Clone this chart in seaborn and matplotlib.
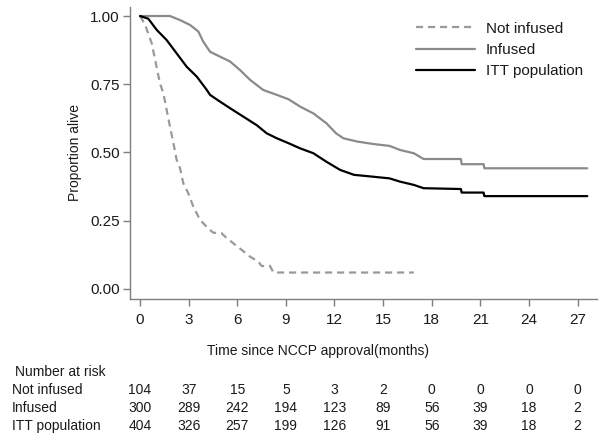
import matplotlib
matplotlib.use("Agg")
import matplotlib.pyplot as plt
import matplotlib.transforms as mtransforms
import seaborn as sns
import pandas as pd

# Kaplan-Meier survival estimates (months since NCCP approval, proportion alive)
not_infused_t = [0.0, 0.3, 0.72, 0.93, 1.23, 1.44, 1.64, 1.85, 2.06, 2.26, 2.47, 2.67,
                 2.98, 3.29, 3.7, 4.2, 4.52, 5.03, 5.35, 5.76, 6.27, 6.79, 7.3, 7.5,
                 8.02, 8.23, 16.9]
not_infused_s = [1.0, 0.97, 0.90, 0.839, 0.753, 0.717, 0.656, 0.594, 0.534, 0.473, 0.442, 0.387,
                 0.35, 0.301, 0.253, 0.222, 0.206, 0.204, 0.186, 0.167, 0.143, 0.118, 0.10, 0.084,
                 0.084, 0.06, 0.06]

infused_t = [0.0, 1.85, 2.47, 3.09, 3.6, 3.9, 4.32, 4.94, 5.56, 6.17, 6.79, 7.6, 8.44,
             9.16, 9.88, 10.7, 11.5, 12.1, 12.55, 13.4, 14.4, 15.4, 16.05, 16.9, 17.5,
             19.8, 19.85, 21.2, 21.25, 27.6]
infused_s = [1.0, 1.0, 0.985, 0.967, 0.943, 0.906, 0.869, 0.851, 0.833, 0.802, 0.766, 0.729, 0.711,
             0.695, 0.668, 0.643, 0.607, 0.57, 0.552, 0.54, 0.531, 0.524, 0.509, 0.497, 0.476,
             0.476, 0.457, 0.457, 0.442, 0.442]

itt_t = [0.0, 0.51, 1.03, 1.64, 2.26, 2.88, 3.5, 4.12, 4.32, 4.94, 5.56, 6.38, 7.2, 7.82,
         8.44, 9.16, 9.88, 10.7, 11.5, 12.35, 13.2, 14.4, 15.4, 16.05, 16.9, 17.5,
         19.8, 19.85, 21.2, 21.25, 27.6]
itt_s = [1.0, 0.99, 0.949, 0.912, 0.863, 0.814, 0.778, 0.729, 0.711, 0.686, 0.662, 0.631, 0.60, 0.57,
         0.552, 0.534, 0.515, 0.497, 0.466, 0.436, 0.418, 0.411, 0.405, 0.393, 0.381, 0.369,
         0.366, 0.353, 0.353, 0.34, 0.34]

groups = ["Not infused", "Infused", "ITT population"]
risk_times = [0, 3, 6, 9, 12, 15, 18, 21, 24, 27]
risk_not_infused = [104, 37, 15, 5, 3, 2, 0, 0, 0, 0]
risk_infused = [300, 289, 242, 194, 123, 89, 56, 39, 18, 2]
risk_itt = [404, 326, 257, 199, 126, 91, 56, 39, 18, 2]

sns.set_theme(style="white")
plt.rcParams["font.family"] = ["Liberation Sans", "DejaVu Sans"]

frames = []
for name, t, s in [(groups[0], not_infused_t, not_infused_s),
                   (groups[1], infused_t, infused_s),
                   (groups[2], itt_t, itt_s)]:
    frames.append(pd.DataFrame({"time": t, "surv": s, "group": name}))
df = pd.concat(frames, ignore_index=True)

fig = plt.figure(figsize=(5.99, 4.41), dpi=100)
W, H = 599, 441
ax = fig.add_axes([130 / W, 1 - 299 / H, (597 - 130) / W, (299 - 7) / H])

styles = {
    "Not infused": dict(color="#9a9a9a", linestyle=(0, (3.2, 2.2))),
    "Infused": dict(color="#8a8a8a", linestyle="-"),
    "ITT population": dict(color="#000000", linestyle="-"),
}
for g in groups:
    sub = df[df["group"] == g]
    sns.lineplot(data=sub, x="time", y="surv", ax=ax, estimator=None, sort=False,
                 linewidth=1.6, label=g, **styles[g])

ax.set_xlim(-0.62, 28.2)
ax.set_ylim(-0.037, 1.033)
ax.set_xticks(risk_times)
ax.set_yticks([0, 0.25, 0.5, 0.75, 1.0])
ax.set_yticklabels(["0.00", "0.25", "0.50", "0.75", "1.00"])

for side in ["top", "right"]:
    ax.spines[side].set_visible(False)
for side in ["left", "bottom"]:
    ax.spines[side].set_color("#7f7f7f")
    ax.spines[side].set_linewidth(1.0)
ax.tick_params(axis="both", which="major", bottom=True, left=True, direction="out",
               length=5, width=1.0, color="#7f7f7f", labelsize=11, labelcolor="#1a1a1a")
ax.tick_params(axis="x", pad=5.0)
ax.tick_params(axis="y", pad=2.5)

ax.set_ylabel("Proportion alive", fontsize=10, color="#1a1a1a")
ax.yaxis.set_label_coords(-0.103, 0.503)
ax.set_xlabel("Time since NCCP approval(months)", fontsize=10, color="#1a1a1a")
ax.xaxis.set_label_coords(0.4026, -0.155)

leg = ax.legend(loc="upper right", bbox_to_anchor=(1.0, 0.997), frameon=False,
                fontsize=11, handlelength=3.9, handletextpad=0.7, labelspacing=0.48)
for txt in leg.get_texts():
    txt.set_color("#1a1a1a")

# Number-at-risk table below the axes
trans = mtransforms.blended_transform_factory(ax.transData, fig.transFigure)
fig.text(15 / W, 1 - 372 / H, "Number at risk", fontsize=10, va="center", ha="left",
         color="#1a1a1a")
rows = [(groups[0], risk_not_infused, 390), (groups[1], risk_infused, 408),
        (groups[2], risk_itt, 426)]
for name, counts, ypx in rows:
    fig.text(12 / W, 1 - ypx / H, name, fontsize=10, va="center", ha="left", color="#1a1a1a")
    for t, n in zip(risk_times, counts):
        ax.text(t, 1 - ypx / H, str(n), transform=trans, fontsize=10, va="center",
                ha="center", color="#1a1a1a", clip_on=False)

fig.savefig("out.png", dpi=100)
